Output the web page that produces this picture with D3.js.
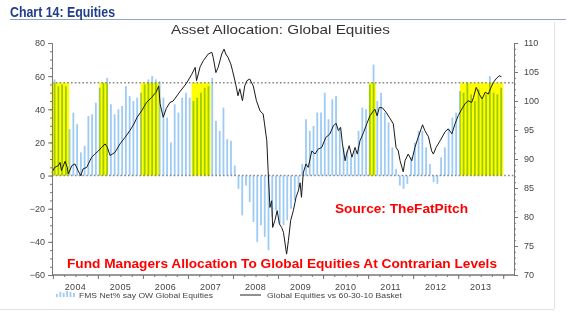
<!DOCTYPE html>
<html><head><meta charset="utf-8">
<script src="https://cdn.jsdelivr.net/npm/d3@7/dist/d3.min.js"></script>
<style>
html,body{margin:0;padding:0;background:#fff;}
svg{display:block;font-family:"Liberation Sans",Arial,sans-serif;}
</style></head>
<body><svg id="c" width="573" height="330"></svg>
<script>
// ---- DATA ----
const startYear = 2004; // monthly FMS survey from Jan 2004
const fmsNetOW = [58,54,55,54,28,38,31,14,18,36,37,44,
  53,56,59,43,37,40,42,54,48,45,47,50,
  55,58,60,58,57,47,35,20,43,38,47,50,
  47,45,47,50,53,54,59,33,27,41,22,21,
  6,-8,-24,-6,-16,-28,-40,-30,-37,-45,-25,-21,
  -29,-30,-27,-20,-15,-7,7,34,27,30,38,38,
  50,34,46,48,29,17,15,11,15,27,41,40,
  55,67,45,50,38,32,17,4,-6,-8,-5,11,
  20,27,27,17,7,-4,-5,11,17,28,35,38,
  51,50,56,49,45,52,46,49,60,50,49,53];
const lineDates = [2003.98,2004.04,2004.12,2004.16,2004.19,2004.27,2004.32,2004.34,2004.42,2004.49,2004.56,2004.62,2004.67,2004.75,2004.86,2004.93,
 2005.01,2005.08,2005.16,2005.21,2005.27,2005.38,2005.49,2005.6,2005.71,2005.8,2005.87,2005.97,
 2006.08,2006.19,2006.29,2006.35,2006.38,2006.45,2006.52,2006.6,2006.67,2006.82,2006.97,
 2007.08,2007.16,2007.19,2007.27,2007.34,2007.45,2007.53,2007.56,2007.62,2007.67,2007.75,2007.8,2007.84,2007.89,2007.95,2007.99,
 2008.06,2008.11,2008.15,2008.21,2008.26,2008.31,2008.37,2008.45,2008.52,2008.6,2008.67,2008.7,2008.75,2008.78,2008.82,2008.86,2008.88,2008.93,2008.98,
 2009.03,2009.08,2009.12,2009.19,2009.23,2009.28,2009.34,2009.4,2009.45,2009.49,2009.52,2009.56,2009.62,2009.67,2009.75,2009.82,2009.89,2009.97,
 2010.06,2010.15,2010.23,2010.29,2010.34,2010.39,2010.43,2010.49,2010.52,2010.58,2010.64,2010.71,2010.76,2010.82,2010.9,2010.97,
 2011.04,2011.12,2011.15,2011.2,2011.25,2011.32,2011.4,2011.47,2011.56,2011.62,2011.67,2011.71,2011.78,2011.82,2011.89,2011.97,
 2012.04,2012.11,2012.21,2012.26,2012.34,2012.41,2012.45,2012.51,2012.6,2012.71,2012.78,2012.86,2012.93,
 2013.0,2013.08,2013.15,2013.22,2013.3,2013.34,2013.4,2013.47,2013.53,2013.6,2013.67,2013.73,2013.78,2013.84,2013.91,2013.96];
const lineValues = [87.7,88.55,88.85,89.4,88.0,89.6,88.55,87.4,88.85,89.15,88.0,87.1,88.3,88.55,90.3,90.85,
 91.4,92.0,92.6,92.0,90.6,91.15,92.6,93.7,94.9,96.05,97.2,98.3,
 99.75,100.6,101.5,102.6,99.5,97.2,98.75,99.75,100.0,101.6,103.1,
 104.55,105.8,103.5,105.9,106.95,108.1,108.4,107.5,104.9,105.8,108.1,108.95,108.1,107.5,106.4,105.2,
 102.9,100.9,102.1,100.05,102.6,103.5,103.8,102.6,100.05,98.3,97.75,96.05,93.15,88.0,81.65,82.8,78.2,79.4,81.1,
 78.8,78.2,77.35,73.6,75.9,79.4,81.1,83.4,84.5,85.9,83.4,87.6,89.15,88.55,91.4,90.85,91.7,92.0,
 93.7,94.3,95.75,96.15,94.9,95.45,92.6,89.7,90.85,92.3,90.3,92.0,90.85,93.15,94.6,96.05,
 97.45,98.3,98.6,97.45,98.9,98.8,98.05,97.2,96.05,92.0,91.4,89.7,87.8,89.7,90.85,89.7,
 92.0,93.7,95.9,94.9,93.85,91.4,90.85,92.0,93.15,94.7,95.2,94.35,96.05,
 97.45,98.6,99.5,100.05,99.75,100.6,102.35,101.2,100.35,101.5,101.2,102.35,103.2,103.8,104.35,104.2];
const bandStarts = [2003.97,2005.03,2005.95,2007.08,2011.02,2013.04];
const bandEnds   = [2004.36,2005.22,2006.36,2007.50,2011.17,2014.00];
const bandLevel = 56;
const leftTicks = [-60,-40,-20,0,20,40,60,80];
const rightTicks = [70,75,80,85,90,95,100,105,110];
const yearLabels = ["2004","2005","2006","2007","2008","2009","2010","2011","2012","2013"];

// ---- CHART ----
const svg = d3.select("#c");
const L = 52, R = 514, T = 43, B = 275;
const x = d3.scaleLinear().domain([2003.98, 2014.24]).range([L, R]);
const yL = d3.scaleLinear().domain([-60, 80]).range([B, T]);
const yR = d3.scaleLinear().domain([70, 110]).range([B, T]);

function fitText(sel, len){ sel.attr("textLength",len).attr("lengthAdjust","spacingAndGlyphs"); return sel; }

// frame lines
svg.append("line").attr("x1",10).attr("x2",566).attr("y1",19.5).attr("y2",19.5).attr("stroke","#8fa3c9").attr("stroke-width",1);
svg.append("line").attr("x1",0).attr("x2",554).attr("y1",309.5).attr("y2",309.5).attr("stroke","#e2e2e2");
svg.append("line").attr("x1",554.5).attr("x2",554.5).attr("y1",22).attr("y2",309).attr("stroke","#e2e2e2");

fitText(svg.append("text").attr("x",10).attr("y",16.5).attr("fill","#1f3d8a")
  .attr("font-weight","bold").attr("font-size",15).text("Chart 14: Equities"), 105);

fitText(svg.append("text").attr("x",171).attr("y",34).attr("fill","#333")
  .attr("font-size",13).text("Asset Allocation: Global Equities"), 219);

// bars
const bw = 1.8;
svg.append("g").selectAll("rect").data(fmsNetOW).join("rect")
  .attr("x",(d,i)=>x(startYear + i/12) + 0.8)
  .attr("width",bw)
  .attr("y",d=>yL(Math.max(0,d)))
  .attr("height",d=>Math.abs(yL(d)-yL(0)))
  .attr("fill","#9dcbf6");

// yellow bands (multiply over bars)
svg.append("g").selectAll("rect").data(bandStarts).join("rect")
  .attr("x",(d)=>x(d)).attr("width",(d,i)=>x(bandEnds[i])-x(d))
  .attr("y",yL(bandLevel)).attr("height",yL(0)-yL(bandLevel))
  .attr("fill","#ffff00").style("mix-blend-mode","multiply");

// dotted reference lines
[bandLevel,0].forEach(v=>{
  svg.append("line").attr("x1",L).attr("x2",R).attr("y1",yL(v)).attr("y2",yL(v))
    .attr("stroke","#888").attr("stroke-width",1.4).attr("stroke-dasharray","1.6,2.2");
});

// line
const lineData = lineDates.map((d,i)=>[d,lineValues[i]]);
svg.append("path").datum(lineData)
  .attr("d",d3.line().x(d=>x(d[0])).y(d=>yR(d[1])))
  .attr("fill","none").attr("stroke","#1a1a1a").attr("stroke-width",1);

// axes
const axisColor = "#777";
const gL = svg.append("g").attr("transform",`translate(${L},0)`);
gL.call(d3.axisLeft(yL).tickValues(d3.range(-60,81,5)).tickSize(2).tickFormat(""));
gL.call(g=>g.append("g").call(d3.axisLeft(yL).tickValues(leftTicks).tickSize(4).tickPadding(3).tickFormat(d3.format("d"))));
gL.selectAll("path,line").attr("stroke",axisColor);
gL.selectAll("text").attr("fill","#444").attr("font-size",9).attr("font-family","'Liberation Sans',Arial,sans-serif");

const gR = svg.append("g").attr("transform",`translate(${R},0)`);
gR.call(d3.axisRight(yR).tickValues(d3.range(70,111,1)).tickSize(2).tickFormat(""));
gR.call(g=>g.append("g").call(d3.axisRight(yR).tickValues(rightTicks).tickSize(4).tickPadding(6).tickFormat(d3.format("d"))));
gR.selectAll("path,line").attr("stroke",axisColor);
gR.selectAll("text").attr("fill","#444").attr("font-size",9).attr("font-family","'Liberation Sans',Arial,sans-serif");

const gB = svg.append("g").attr("transform",`translate(0,${B})`);
gB.call(d3.axisBottom(x).tickValues(d3.range(2004,2014.01,0.25)).tickSize(2).tickFormat(""));
gB.call(g=>g.append("g").call(d3.axisBottom(x).tickValues(d3.range(2004,2015,1)).tickSize(4).tickFormat("")));
gB.selectAll("path,line").attr("stroke",axisColor);
gB.selectAll(".domain").attr("d",`M${L},0H${R}`);
svg.append("g").selectAll("text").data(yearLabels).join("text")
  .attr("x",d=>x(+d + 0.5)).attr("y",B+15).attr("text-anchor","middle")
  .attr("fill","#444").attr("font-size",9).attr("letter-spacing",0.3).text(d=>d);

// legend
const legY = 295;
const legBars = [3,5,4,6,5,4];
svg.append("g").selectAll("rect").data(legBars).join("rect")
  .attr("x",(d,i)=>56+i*3.4).attr("width",1.8).attr("y",d=>legY+2-d).attr("height",d=>d)
  .attr("fill","#9dcbf6");
fitText(svg.append("text").attr("x",79).attr("y",legY+2.5).attr("fill","#444").attr("font-size",8)
  .text("FMS Net% say OW Global Equities"), 134);
svg.append("line").attr("x1",240).attr("x2",261).attr("y1",legY).attr("y2",legY).attr("stroke","#222");
fitText(svg.append("text").attr("x",267).attr("y",legY+2.5).attr("fill","#444").attr("font-size",8)
  .text("Global Equities vs 60-30-10 Basket"), 135);

// annotations
fitText(svg.append("text").attr("x",335).attr("y",213).attr("fill","#ff0000").attr("font-weight","bold")
  .attr("font-size",13).text("Source: TheFatPitch"), 133);
fitText(svg.append("text").attr("x",67).attr("y",268).attr("fill","#ff0000").attr("font-weight","bold")
  .attr("font-size",13.5).text("Fund Managers Allocation To Global Equities At Contrarian Levels"), 430);
</script></body></html>
